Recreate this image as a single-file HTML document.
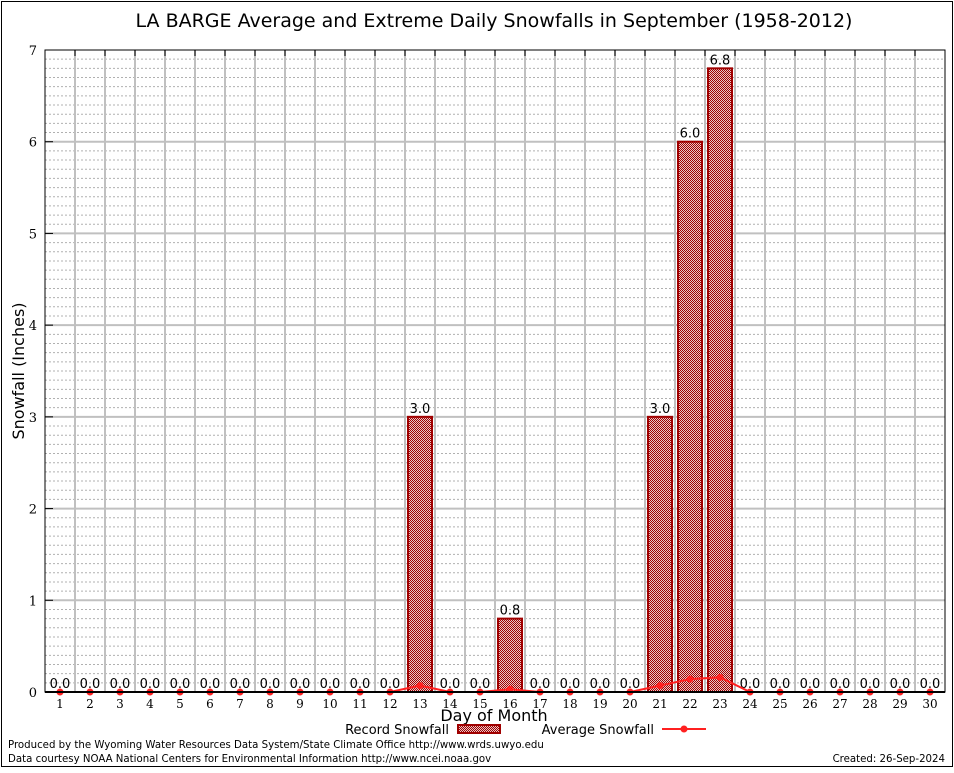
<!DOCTYPE html>
<html><head><meta charset="utf-8"><style>
body{margin:0;background:#fff;}
svg text{font-family:"DejaVu Sans","Liberation Sans",sans-serif;}
.serif{font-family:"DejaVu Serif","Liberation Serif",serif !important;}
</style></head><body>
<svg id="chart" width="954" height="768" xmlns="http://www.w3.org/2000/svg">
<defs>
<pattern id="hatch" width="2" height="2" patternUnits="userSpaceOnUse">
<rect width="2" height="2" fill="#e8c8c8"/>
<rect x="0" y="0" width="1" height="1" fill="#a00000"/>
<rect x="1" y="1" width="1" height="1" fill="#a00000"/>
</pattern>
</defs>
<rect x="1.5" y="1.5" width="951" height="765" fill="#fff" stroke="#000" stroke-width="1"/>
<text x="494" y="27" font-size="19" text-anchor="middle">LA BARGE Average and Extreme Daily Snowfalls in September (1958-2012)</text>
<g id="grid"></g>
<g id="bars"></g>
<g id="avg"></g>
<g id="axes"></g>
<text x="24" y="371" font-size="16" text-anchor="middle" transform="rotate(-90 24 371)">Snowfall (Inches)</text>
<text x="494" y="721" font-size="16" text-anchor="middle">Day of Month</text>
<g>
<text x="449" y="734" font-size="13" text-anchor="end">Record Snowfall</text>
<rect x="458" y="725" width="42" height="8" fill="url(#hatch)" stroke="#a00000" stroke-width="2"/>
<text x="654" y="734" font-size="13" text-anchor="end">Average Snowfall</text>
<line x1="662" y1="729" x2="706" y2="729" stroke="#ff2020" stroke-width="2"/>
<circle cx="684" cy="729" r="3.5" fill="#ff2020"/>
</g>
<text x="8" y="748" font-size="10.2">Produced by the Wyoming Water Resources Data System/State Climate Office http://www.wrds.uwyo.edu</text>
<text x="8" y="762" font-size="10.2">Data courtesy NOAA National Centers for Environmental Information http://www.ncei.noaa.gov</text>
<text x="945" y="762" font-size="10.2" text-anchor="end">Created:  26-Sep-2024</text>
</svg>
<script>
const days=[1,2,3,4,5,6,7,8,9,10,11,12,13,14,15,16,17,18,19,20,21,22,23,24,25,26,27,28,29,30];
const recordSnow=[0,0,0,0,0,0,0,0,0,0,0,0,3.0,0,0,0.8,0,0,0,0,3.0,6.0,6.8,0,0,0,0,0,0,0];
const avgSnow=[0,0,0,0,0,0,0,0,0,0,0,0,0.07,0,0,0.03,0,0,0,0,0.07,0.14,0.16,0,0,0,0,0,0,0];
const yTicks=[0,1,2,3,4,5,6,7];
const NS="http://www.w3.org/2000/svg";
const L=45,R=945,T=50,B=692,yMax=7;
const x=d=>L+15+(d-1)*(R-L)/30;
const y=v=>B-v*(B-T)/yMax;
function mk(tag,attrs,parent){const e=document.createElementNS(NS,tag);for(const k in attrs)e.setAttribute(k,attrs[k]);parent.appendChild(e);return e;}
const grid=document.getElementById('grid'),bars=document.getElementById('bars'),avg=document.getElementById('avg'),axes=document.getElementById('axes');
for(let i=1;i<yMax*10;i++){if(i%10===0)continue;const l=mk('line',{x1:L,x2:R,y1:y(i/10),y2:y(i/10),stroke:'#b0b0b0','stroke-width':1,'stroke-dasharray':'2,2'},grid);

}
yTicks.forEach(t=>{if(t>0&&t<yMax){const l=mk('line',{x1:L,x2:R,y1:y(t),y2:y(t),stroke:'#c0c0c0','stroke-width':2},grid);

}
const tl=mk('line',{x1:L,x2:L+8,y1:y(t),y2:y(t),stroke:'#000','stroke-width':1},axes);


const tx=mk('text',{x:L-8,y:y(t)+5,'font-size':13,'text-anchor':'end',class:'serif'},axes);tx.textContent=t;

});
for(let i=1;i<30;i++){const xv=(x(i)+x(i+1))/2;const l=mk('line',{x1:xv,x2:xv,y1:T,y2:B,stroke:'#c0c0c0','stroke-width':2},grid);


const tk=mk('line',{x1:xv,x2:xv,y1:T,y2:T+6,stroke:'#000'},axes);

}
days.forEach((d,i)=>{const v=recordSnow[i];
if(v>0){const r=mk('rect',{x:x(d)-12,y:y(v),width:24,height:B-y(v),fill:'url(#hatch)',stroke:'#a00000','stroke-width':2},bars);

}
const t=mk('text',{x:x(d),y:y(v)-4,'font-size':13,'text-anchor':'middle'},bars);t.textContent=v.toFixed(1);


const xl=mk('text',{x:x(d),y:B+16,'font-size':12,'text-anchor':'middle',class:'serif'},axes);xl.textContent=d;

});
const pts=days.map((d,i)=>x(d)+','+y(avgSnow[i])).join(' ');
const pl=mk('polyline',{points:pts,fill:'none',stroke:'#ff2020','stroke-width':2},avg);


days.forEach((d,i)=>{const c=mk('circle',{cx:x(d),cy:y(avgSnow[i]),r:3.5,fill:'#ff2020'},avg);

});
const frame=mk('rect',{x:L,y:T,width:R-L,height:B-T,fill:'none',stroke:'#000','stroke-width':1},axes);


const base=mk('line',{x1:L,x2:R,y1:B,y2:B,stroke:'#000','stroke-width':2},axes);


</script>
</body></html>
